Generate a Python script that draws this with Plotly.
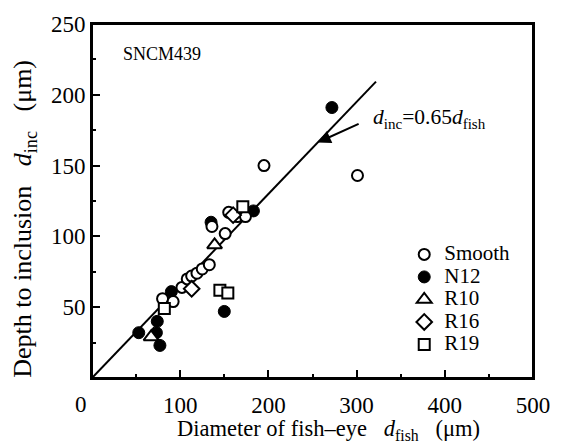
import plotly.graph_objects as go

# ---- data ----
smooth_x = [80, 92, 102, 108, 113, 119, 125, 133, 136, 151, 155, 165, 174, 195, 301]
smooth_y = [56, 54, 64, 70, 72, 74, 77, 80, 107, 102, 117, 114, 114, 150, 143]
n12_x = [53, 74, 73, 77, 90, 135, 150, 183, 272]
n12_y = [32, 40, 32, 23, 61, 110, 47, 118, 191]
r10_x = [67, 139]
r10_y = [29, 94]
r16_x = [113, 160]
r16_y = [63, 115]
r19_x = [82, 145, 154, 171]
r19_y = [49, 62, 60, 121]
slope = 0.65
line_x = [0, 322]
line_y = [slope * v for v in line_x]
x_ticks = [0, 100, 200, 300, 400, 500]
x_labels = ["", "100", "200", "300", "400", "500"]
y_ticks = [0, 50, 100, 150, 200, 250]
y_labels = ["", "50", "100", "150", "200", "250"]

FONT = "Liberation Serif"
LS = "<span style='font-size:21px'>%s</span>"

fig = go.Figure()
fig.add_trace(go.Scatter(x=line_x, y=line_y, mode="lines",
                         line=dict(color="black", width=2), showlegend=False, hoverinfo="skip"))
fig.add_trace(go.Scatter(x=n12_x, y=n12_y, mode="markers", name=LS % "N12", legendrank=2,
                         marker=dict(symbol="circle", size=12, color="black",
                                     line=dict(color="black", width=1))))
fig.add_trace(go.Scatter(x=smooth_x, y=smooth_y, mode="markers", name=LS % "Smooth", legendrank=1,
                         marker=dict(symbol="circle", size=11, color="white",
                                     line=dict(color="black", width=2))))
fig.add_trace(go.Scatter(x=r10_x, y=r10_y, mode="markers", name=LS % "R10", legendrank=3,
                         marker=dict(symbol="triangle-up", size=13, color="white",
                                     line=dict(color="black", width=2))))
fig.add_trace(go.Scatter(x=r16_x, y=r16_y, mode="markers", name=LS % "R16", legendrank=4,
                         marker=dict(symbol="diamond", size=12, color="white",
                                     line=dict(color="black", width=2))))
fig.add_trace(go.Scatter(x=r19_x, y=r19_y, mode="markers", name=LS % "R19", legendrank=5,
                         marker=dict(symbol="square", size=11, color="white",
                                     line=dict(color="black", width=2))))

axis_common = dict(showgrid=False, zeroline=False, showline=True, linecolor="black",
                   linewidth=2, mirror=True, ticks="inside", ticklen=8, tickwidth=1.5,
                   tickcolor="black", tickfont=dict(family=FONT, size=23, color="black"))
fig.update_xaxes(range=[0, 500], tickvals=x_ticks, ticktext=x_labels,
                 minor=dict(ticks="inside", ticklen=4, tickwidth=1.5, dtick=50, tickcolor="black"),
                 ticklabelstandoff=5, **axis_common)
fig.update_yaxes(range=[0, 250], tickvals=y_ticks, ticktext=y_labels,
                 minor=dict(ticks="inside", ticklen=4, tickwidth=1.5, dtick=25, tickcolor="black"),
                 ticklabelstandoff=0, **axis_common)

# plot frame
fig.add_shape(type="rect", xref="x domain", yref="y domain", x0=0, x1=1, y0=0, y1=1,
              line=dict(color="black", width=2), layer="above")

fig.add_annotation(x=0, y=0, xref="x", yref="y", text="0", showarrow=False,
                   xshift=-11, yshift=-26, font=dict(family=FONT, size=23, color="black"))
fig.add_annotation(xref="paper", yref="paper", x=0.537, y=-0.148, xanchor="center", yanchor="middle",
                   text="Diameter of fish–eye&nbsp;&nbsp;&nbsp;<i>d</i><sub>fish</sub>&nbsp;&nbsp;&nbsp;(μm)",
                   showarrow=False, font=dict(family=FONT, size=22.5, color="black"))
fig.add_annotation(xref="paper", yref="paper", x=-0.154, y=0.45, textangle=-90,
                   xanchor="center", yanchor="middle",
                   text="Depth to inclusion&nbsp;&nbsp;&nbsp;<i>d</i><sub>inc</sub>&nbsp;&nbsp;&nbsp;(μm)",
                   showarrow=False, font=dict(family=FONT, size=26, color="black"))
fig.add_annotation(xref="paper", yref="paper", x=0.066, y=0.916, xanchor="left", yanchor="middle",
                   text="SNCM439", showarrow=False, font=dict(family=FONT, size=18, color="black"))
fig.add_annotation(x=256, y=slope * 256, xref="x", yref="y", ax=304, ay=180,
                   axref="x", ayref="y", text="", showarrow=True, arrowhead=2,
                   arrowsize=1.3, arrowwidth=2, arrowcolor="black")
fig.add_annotation(x=316, y=183, xref="x", yref="y", xanchor="left", yanchor="middle",
                   text="<i>d</i><sub>inc</sub>=0.65<i>d</i><sub>fish</sub>",
                   showarrow=False, font=dict(family=FONT, size=21.5, color="black"))

fig.update_layout(width=562, height=443, margin=dict(l=92, r=21, t=20, b=65),
                  paper_bgcolor="white", plot_bgcolor="white",
                  font=dict(family=FONT, color="black"),
                  legend=dict(x=0.708, y=0.395, xanchor="left", yanchor="top",
                              font=dict(family=FONT, size=15, color="black"),
                              bgcolor="rgba(0,0,0,0)", borderwidth=0),
                  showlegend=True)
fig.write_html("out.html")
